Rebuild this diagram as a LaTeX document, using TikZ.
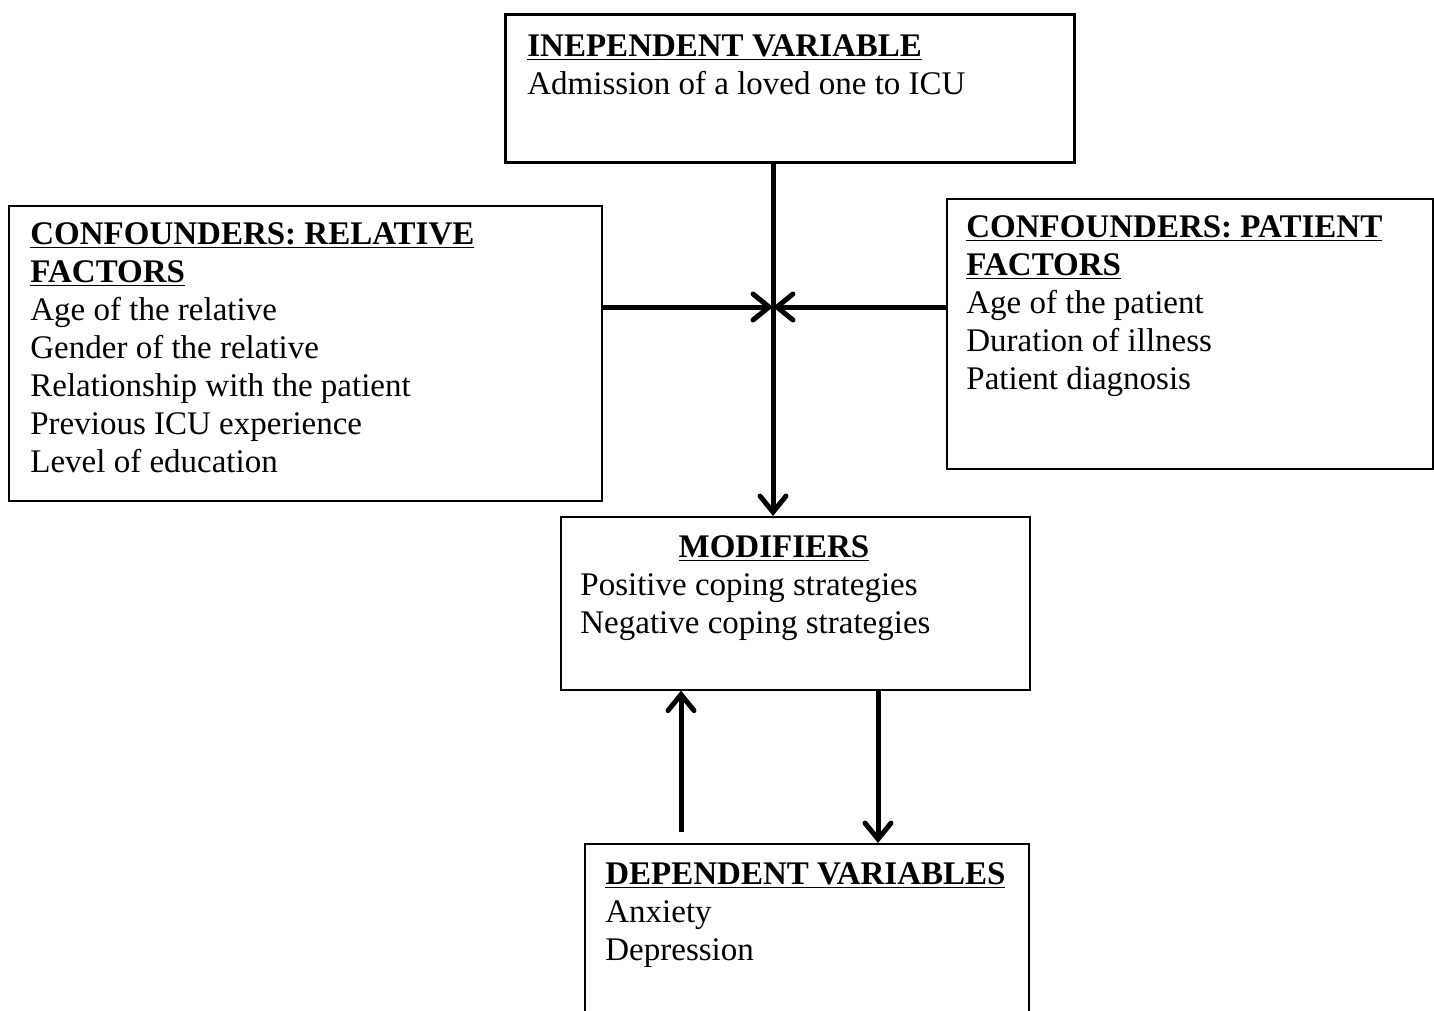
\documentclass[tikz,border=0pt]{standalone}
\usepackage{fontspec}
\setmainfont{Liberation Serif}
\usetikzlibrary{arrows.meta,positioning}

\newcommand{\headline}[1]{\textbf{\underline{#1}}}

\tikzset{
  framebox/.style={draw, line width=0.8pt, inner sep=0pt, anchor=north west},
  bodytext/.style={anchor=north west, align=left, inner sep=0pt,
    font=\fontsize{16.5}{19}\selectfont},
  flow/.style={line width=2.5pt,
    -{Straight Barb[length=8pt, width=13pt, line cap=round]}}
}

\begin{document}
\begin{tikzpicture}[x=0.5pt, y=-0.5pt]
\useasboundingbox (0,0) rectangle (1434,1011);

% boxes
\node[framebox, line width=1.5pt, minimum width=284.5pt, minimum height=74pt] (indep) at (504,13) {};
\node[framebox, minimum width=296.5pt, minimum height=147.5pt] (relconf) at (8,205) {};
\node[framebox, minimum width=243pt, minimum height=135pt] (patconf) at (946,198) {};
\node[framebox, minimum width=234.5pt, minimum height=86.5pt] (modif) at (560,516) {};
\node[framebox, minimum width=222pt, minimum height=100pt] (depvar) at (584,843) {};

% texts
\node[bodytext] (indeptxt) at (527,34)
  {\headline{INEPENDENT VARIABLE}\\ Admission of a loved one to ICU};
\node[bodytext] (reltxt) at (30,222)
  {\headline{CONFOUNDERS: RELATIVE}\\ \headline{FACTORS}\\ Age of the relative\\
   Gender of the relative\\ Relationship with the patient\\
   Previous ICU experience\\ Level of education};
\node[bodytext] (pattxt) at (966,215)
  {\headline{CONFOUNDERS: PATIENT}\\ \headline{FACTORS}\\ Age of the patient\\
   Duration of illness\\ Patient diagnosis};
\node[bodytext, anchor=north] (modhead) at (774,535) {\headline{MODIFIERS}};
\node[bodytext] (modtxt) at (580,573)
  {Positive coping strategies\\ Negative coping strategies};
\node[bodytext] (deptxt) at (605,862)
  {\headline{DEPENDENT VARIABLES}\\ Anxiety\\ Depression};

% connectors
\coordinate (hub) at (773,307);
\coordinate (up) at (681,832);
\coordinate (down) at (878,760);

\draw[flow] (hub |- indep.south) -- (hub |- modif.north);
\draw[flow] (relconf.east |- hub) -- (hub);
\draw[flow] (patconf.west |- hub) -- (hub);
\draw[flow] (up) -- (up |- modif.south);
\draw[flow] (down |- modif.south) -- (down |- depvar.north);
\end{tikzpicture}
\end{document}
